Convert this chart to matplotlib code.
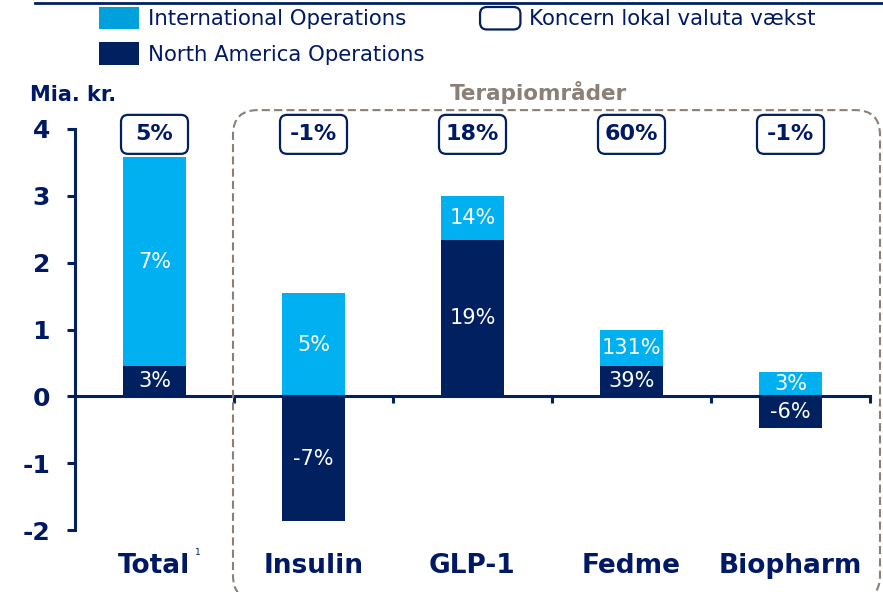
import matplotlib.pyplot as plt
import matplotlib.transforms as mtransforms
from matplotlib.patches import Patch, FancyBboxPatch
from matplotlib.legend_handler import HandlerPatch
from matplotlib.lines import Line2D

# data (mia. kr.)
categories = ['Total', 'Insulin', 'GLP-1', 'Fedme', 'Biopharm']
north_america = [0.45, -1.87, 2.34, 0.46, -0.48]
international = [3.13, 1.54, 0.66, 0.54, 0.36]
na_labels = ['3%', '-7%', '19%', '39%', '-6%']
intl_labels = ['7%', '5%', '14%', '131%', '3%']
group_growth = ['5%', '-1%', '18%', '60%', '-1%']
y_ticks = [-2, -1, 0, 1, 2, 3, 4]

NAVY = '#002060'
TXT = '#001965'
CYAN = '#00B0F0'
CYAN_LEG = '#00A0DC'
GREY = '#8A8077'

W, H = 883, 592
fig = plt.figure(figsize=(W / 100, H / 100), dpi=100)
ax = fig.add_axes([75 / W, 1 - 530 / H, 795 / W, 401 / H])

x = list(range(len(categories)))
intl_bottom = [max(v, 0) for v in north_america]

bars_na = ax.bar(x, north_america, width=0.4, color=NAVY, zorder=2)
bars_int = ax.bar(x, international, bottom=intl_bottom, width=0.4, color=CYAN, zorder=2)
ax.bar_label(bars_na, labels=na_labels, label_type='center', color='white', fontsize=15)
ax.bar_label(bars_int, labels=intl_labels, label_type='center', color='white', fontsize=15)

ax.set_xlim(-0.5, 4.5)
ax.set_ylim(-2, 4)
for s in ['top', 'right']:
    ax.spines[s].set_visible(False)
ax.spines['left'].set_bounds(-2, 4)
ax.spines['bottom'].set_position(('data', 0))
for s in ['left', 'bottom']:
    ax.spines[s].set_color(NAVY)
    ax.spines[s].set_linewidth(2.2)
ax.spines['bottom'].set_zorder(3)

ax.set_yticks(y_ticks)
ax.set_yticklabels([str(t) for t in y_ticks], fontsize=18, fontweight='bold', color=TXT)
ax.tick_params(axis='y', direction='out', length=6, width=2.2, color=NAVY, pad=12)
ax.set_xticks([i + 0.5 for i in x])
ax.set_xticklabels([])
ax.tick_params(axis='x', direction='out', length=5, width=2.2, color=NAVY)

# category names below the plot
trans = mtransforms.blended_transform_factory(ax.transData, ax.transAxes)
for i, name in enumerate(categories):
    ax.text(i, -0.09, name, transform=trans, ha='center', va='center',
            fontsize=19, fontweight='bold', color=TXT, clip_on=False)
ax.text(0.27, -0.057, '1', transform=trans, ha='center', va='center',
        fontsize=6.5, color=TXT, clip_on=False)

# growth boxes above bars
bw, bh = 67 / 795, 39 / 401
for i, g in enumerate(group_growth):
    cx = (i + 0.5) / 5
    box = FancyBboxPatch((cx - bw / 2, 0.938), bw, bh,
                         boxstyle='round,pad=0,rounding_size=0.009',
                         mutation_aspect=795 / 401, transform=ax.transAxes,
                         facecolor='white', edgecolor=NAVY, lw=1.6, clip_on=False)
    ax.add_patch(box)
    ax.text(cx, 0.938 + bh / 2, g, transform=ax.transAxes, ha='center', va='center',
            fontsize=16, fontweight='bold', color=TXT)

# dashed region for therapy areas
region = FancyBboxPatch((233 / W, -0.014), 647 / W, 0.828,
                        boxstyle='round,pad=0,rounding_size=0.028',
                        mutation_aspect=W / H, transform=fig.transFigure,
                        facecolor='none', edgecolor=GREY, lw=1.5,
                        linestyle=(0, (3.9, 2)))
fig.patches.append(region)
fig.text(539 / W, 1 - 92 / H, 'Terapiområder', ha='center', va='center',
         fontsize=15.5, fontweight='bold', color=GREY)
fig.text(30 / W, 1 - 95 / H, 'Mia. kr.', ha='left', va='center',
         fontsize=15, fontweight='bold', color=TXT)

fig.lines.append(Line2D([35 / W, 1], [1 - 3 / H, 1 - 3 / H], transform=fig.transFigure,
                        color=NAVY, lw=2))


def round_box(legend, orig_handle, xdescent, ydescent, width, height, fontsize):
    return FancyBboxPatch((-xdescent, -ydescent), width, height,
                          boxstyle='round,pad=0,rounding_size=5')


handles = [Patch(facecolor=CYAN_LEG), Patch(facecolor=NAVY),
           Patch(facecolor='white', edgecolor=NAVY, lw=1.6)]
labels = ['International Operations', 'North America Operations', 'Koncern lokal valuta vækst']
leg = fig.legend(handles, labels, loc='upper left', bbox_to_anchor=(99 / W, 1 - 7 / H),
                 ncol=2, frameon=False, fontsize=15.3, borderpad=0, borderaxespad=0,
                 handlelength=1.9, handleheight=1.25, handletextpad=0.42,
                 labelspacing=0.6, columnspacing=2.6,
                 handler_map={handles[2]: HandlerPatch(patch_func=round_box)})
for t in leg.get_texts():
    t.set_color(TXT)

fig.savefig('out.png', dpi=100)
